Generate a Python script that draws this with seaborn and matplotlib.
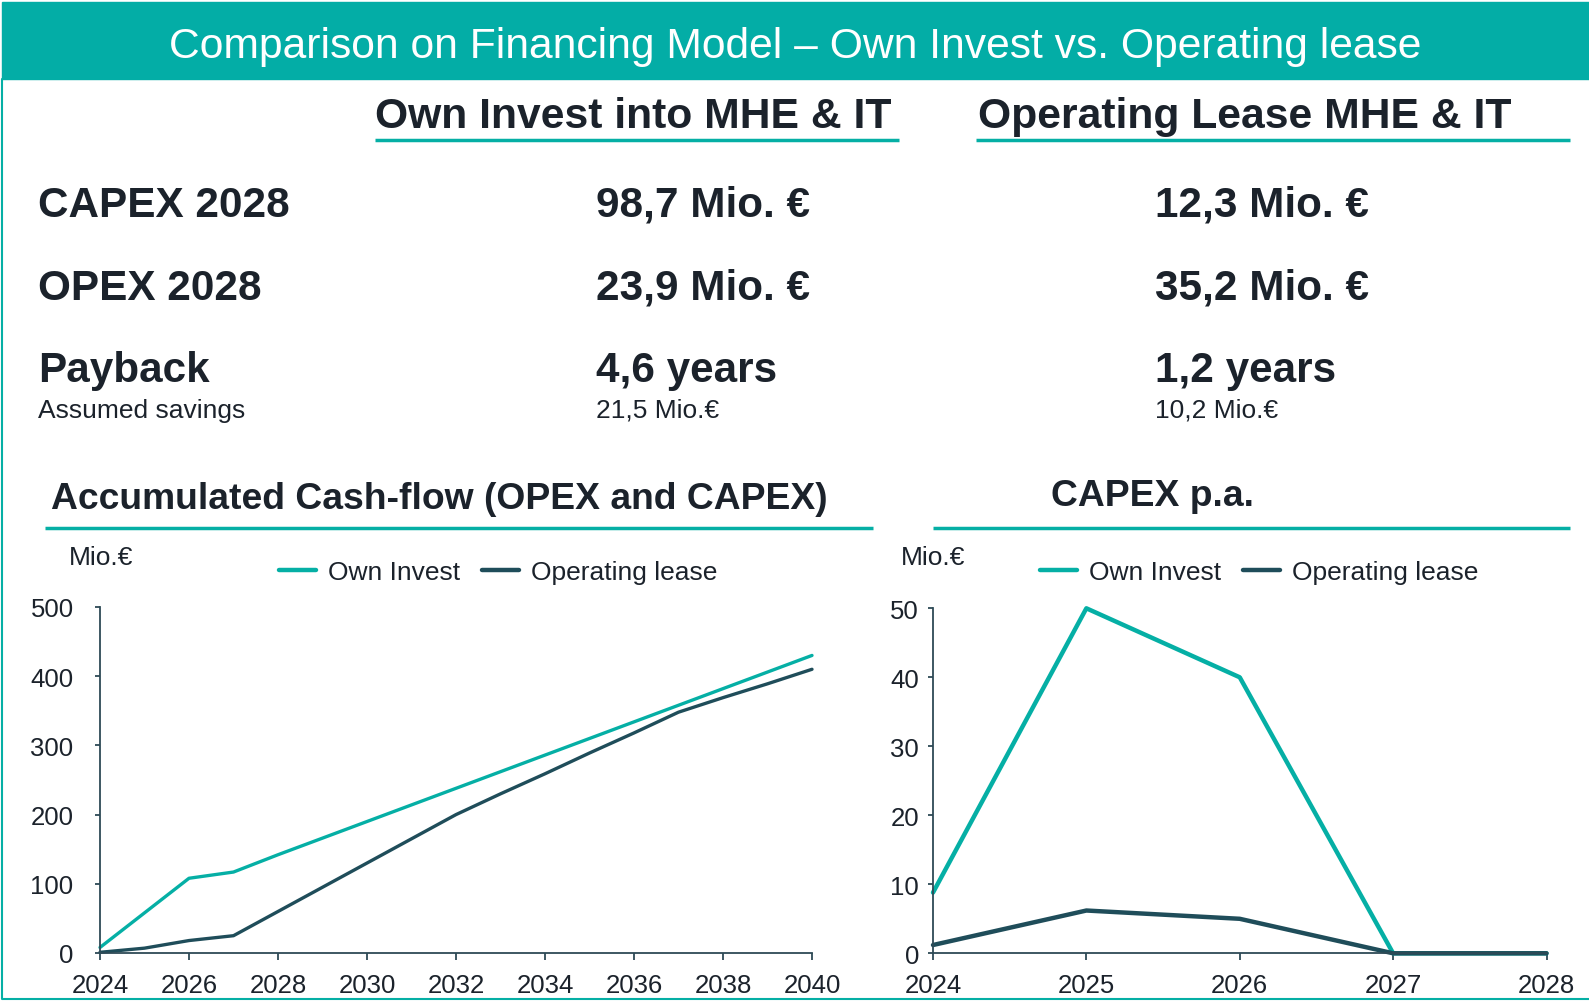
import matplotlib
matplotlib.use('Agg')
import matplotlib.pyplot as plt
from matplotlib.lines import Line2D
from matplotlib.patches import Rectangle
import seaborn as sns
import pandas as pd

# accumulated cash-flow (Mio. EUR)
years_acc = list(range(2024, 2041))
own_acc = [8, 58, 108, 117, 142, 166, 190, 214, 238, 262, 286, 310, 334, 358, 382, 406, 430]
lease_acc = [1, 7, 18, 25, 60, 95, 130, 165, 200, 230, 259, 289, 318, 348, 369, 389, 410]

# capex per year (Mio. EUR)
years_capex = [2024, 2025, 2026, 2027, 2028]
own_capex = [8.8, 50, 40, 0, 0]
lease_capex = [1.2, 6.2, 5, 0, 0]

series_names = ['Own Invest', 'Operating lease']

title = 'Comparison on Financing Model \u2013 Own Invest vs. Operating lease'
col_heads = ['Own Invest into MHE & IT', 'Operating Lease MHE & IT']
row_labels = ['CAPEX 2028', 'OPEX 2028', 'Payback']
own_vals = ['98,7 Mio. \u20ac', '23,9 Mio. \u20ac', '4,6 years']
lease_vals = ['12,3 Mio. \u20ac', '35,2 Mio. \u20ac', '1,2 years']
savings = ['21,5 Mio.\u20ac', '10,2 Mio.\u20ac']

TEAL = '#05AFA5'
DARK = '#1F4D5A'
TXT = '#1B222B'
SPINE = '#2E4A56'

sns.set_style('white')
plt.rcParams['font.family'] = ['Liberation Sans', 'DejaVu Sans']

W, H = 1589, 1003
fig = plt.figure(figsize=(W / 100, H / 100), dpi=100)


def fx(x):
    return x / W


def fy(y):
    return 1 - y / H


def hline(x0, x1, y, lw=2.5, color=TEAL):
    fig.add_artist(Line2D([fx(x0), fx(x1)], [fy(y), fy(y)], color=color, lw=lw,
                          transform=fig.transFigure, solid_capstyle='butt'))


# title bar and frame
fig.add_artist(Rectangle((fx(2), fy(80)), 1 - fx(2), (80 - 3) / H, color='#03ADA6',
                         transform=fig.transFigure, zorder=0))
fig.add_artist(Line2D([fx(2), fx(2)], [fy(80), fy(1000)], color=TEAL, lw=1.5,
                      transform=fig.transFigure))
hline(2, W, 1000, lw=1.5)
fig.text(fx(795), fy(58), title, color='white', fontsize=30.7, ha='center', va='baseline')

# key figure table
fig.text(fx(375), fy(128), col_heads[0], color=TXT, fontsize=30.7, fontweight='bold', va='baseline')
fig.text(fx(978), fy(128), col_heads[1], color=TXT, fontsize=30.7, fontweight='bold', va='baseline')
hline(375, 899, 141)
hline(976, 1570, 141)

baselines = [216.7, 300, 382]
for lab, a, b, yb in zip(row_labels, own_vals, lease_vals, baselines):
    fig.text(fx(38), fy(yb), lab, color=TXT, fontsize=30.4, fontweight='bold', va='baseline')
    fig.text(fx(596), fy(yb), a, color=TXT, fontsize=30.4, fontweight='bold', va='baseline')
    fig.text(fx(1155), fy(yb), b, color=TXT, fontsize=30.4, fontweight='bold', va='baseline')
fig.text(fx(38), fy(418), 'Assumed savings', color=TXT, fontsize=19, va='baseline')
fig.text(fx(596), fy(418), savings[0], color=TXT, fontsize=19, va='baseline')
fig.text(fx(1155), fy(418), savings[1], color=TXT, fontsize=19, va='baseline')

# chart headings
fig.text(fx(51), fy(509), 'Accumulated Cash-flow (OPEX and CAPEX)', color=TXT, fontsize=26.8,
         fontweight='bold', va='baseline')
fig.text(fx(1051), fy(506), 'CAPEX p.a.', color=TXT, fontsize=26.8, fontweight='bold', va='baseline')
hline(45, 873, 529)
hline(933, 1570, 529)


def long_df(years, a, b):
    return pd.DataFrame({
        'Year': years + years,
        'Value': a + b,
        'Series': [series_names[0]] * len(years) + [series_names[1]] * len(years),
    })


def style_axis(ax, xticks, yticks, ypad, lw):
    for s in ['top', 'right']:
        ax.spines[s].set_visible(False)
    for s in ['left', 'bottom']:
        ax.spines[s].set_color(SPINE)
        ax.spines[s].set_linewidth(1.3)
    ax.set_xticks(xticks)
    ax.set_yticks(yticks)
    ax.set_xlim(xticks[0], xticks[-1])
    ax.set_ylim(yticks[0], yticks[-1])
    ax.tick_params(axis='x', direction='out', length=5, width=1.3, color=SPINE,
                   labelsize=18.5, labelcolor=TXT, pad=9.5, bottom=True)
    ax.tick_params(axis='y', direction='out', length=3.5, width=1.3, color=SPINE,
                   labelsize=18.5, labelcolor=TXT, pad=ypad, left=True)
    ax.set_xlabel('')
    ax.set_ylabel('')
    ax.grid(False)
    for ln in ax.get_lines():
        ln.set_clip_on(False)
        ln.set_linewidth(lw)


palette = {series_names[0]: TEAL, series_names[1]: DARK}

ax1 = fig.add_axes([fx(100), fy(954), (812 - 100) / W, (954 - 608) / H])
sns.lineplot(data=long_df(years_acc, own_acc, lease_acc), x='Year', y='Value', hue='Series',
             palette=palette, ax=ax1, legend=False)
style_axis(ax1, list(range(2024, 2041, 2)), list(range(0, 501, 100)), 15.5, 2.4)

ax2 = fig.add_axes([fx(933), fy(954.3), (1546.5 - 933) / W, (954.3 - 609.3) / H])
sns.lineplot(data=long_df(years_capex, own_capex, lease_capex), x='Year', y='Value', hue='Series',
             palette=palette, ax=ax2, legend=False)
style_axis(ax2, years_capex, list(range(0, 51, 10)), 6.5, 3.2)

for ax, xm, xl in [(ax1, 69, 279), (ax2, 901, 1040)]:
    fig.text(fx(xm), fy(565), 'Mio.\u20ac', color=TXT, fontsize=19, va='baseline')
    handles = [Line2D([], [], color=TEAL, lw=3.2), Line2D([], [], color=DARK, lw=3.2)]
    fig.legend(handles, series_names, loc='center left', bbox_to_anchor=(fx(xl), fy(573)),
               bbox_transform=fig.transFigure, ncol=2, frameon=False, fontsize=19,
               labelcolor=TXT, borderpad=0, borderaxespad=0, handlelength=1.4,
               handletextpad=0.45, columnspacing=0.85)

fig.savefig('out.png', dpi=100)
